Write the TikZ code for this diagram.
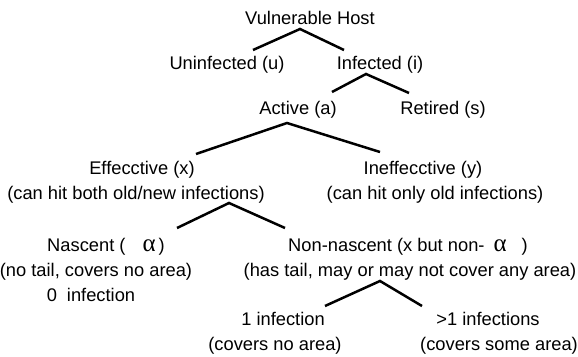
\documentclass[tikz,border=0pt]{standalone}
\usepackage{fontspec}
\setmainfont{Liberation Sans}
\newfontfamily\greekfont{Liberation Serif}
\newcommand{\alphasym}{{\greekfont\fontsize{25}{25}\selectfont α}}
\usetikzlibrary{positioning}

\begin{document}
\begin{tikzpicture}[x=1pt,y=-1pt,node distance=25pt]
\tikzstyle{every node}=[font=\fontsize{18.3}{22}\selectfont,inner sep=0pt,text height=13pt,text depth=4pt]
\tikzstyle{branch}=[draw,line width=2.5pt]
\useasboundingbox (0,0) rectangle (578,356);

\node (host) at (310,20) {Vulnerable Host};
\node (uninf) at (227,65) {Uninfected (u)};
\node (inf) at (380,65) {Infected (i)};
\node (active) at (298,110) {Active (a)};
\node (retired) at (443,110) {Retired (s)};
\node (eff) at (142,170) {Effecctive (x)};
\node (effnote) [below of=eff,xshift=-6pt] {(can hit both old/new infections)};
\node (ineff) at (423,170) {Ineffecctive (y)};
\node (ineffnote) [below of=ineff,xshift=12pt] {(can hit only old infections)};
\node (nasc) at (106,247) {Nascent (\hspace{17pt}\alphasym\hspace{3pt})};
\node (nascnote) [below of=nasc,xshift=-10pt] {(no tail, covers no area)};
\node (nasczero) [below of=nascnote,xshift=-5pt] {0\hspace{10pt}infection};
\node (nonnasc) at (408,247) {Non-nascent (x but non-\hspace{9pt}\alphasym\hspace{15pt})};
\node (nonnascnote) [below of=nonnasc,xshift=2pt] {(has tail, may or may not cover any area)};
\node (one) at (283,321) {1 infection};
\node (onenote) [below of=one,xshift=-8pt] {(covers no area)};
\node (many) at (488,321) {>1 infections};
\node (manynote) [below of=many,xshift=11pt] {(covers some area)};

% forks of the tree
\coordinate (hostfork) at (300,29);
\coordinate (uninfend) at (253,50);
\coordinate (infend) at (344,50);
\coordinate (inffork) at (366,74);
\coordinate (activeend) at (332,92);
\coordinate (retiredend) at (409,93);
\coordinate (activefork) at (287,123);
\coordinate (effend) at (196,154);
\coordinate (ineffend) at (380,152);
\coordinate (efffork) at (229,203);
\coordinate (nascend) at (177,228);
\coordinate (nonnascend) at (285,228);
\coordinate (nonnascfork) at (380,281);
\coordinate (oneend) at (325,306);
\coordinate (manyend) at (422,306);

\draw[branch] (uninfend) -- (hostfork) -- (infend);
\draw[branch] (activeend) -- (inffork) -- (retiredend);
\draw[branch] (effend) -- (activefork) -- (ineffend);
\draw[branch] (nascend) -- (efffork) -- (nonnascend);
\draw[branch] (oneend) -- (nonnascfork) -- (manyend);
\end{tikzpicture}
\end{document}
